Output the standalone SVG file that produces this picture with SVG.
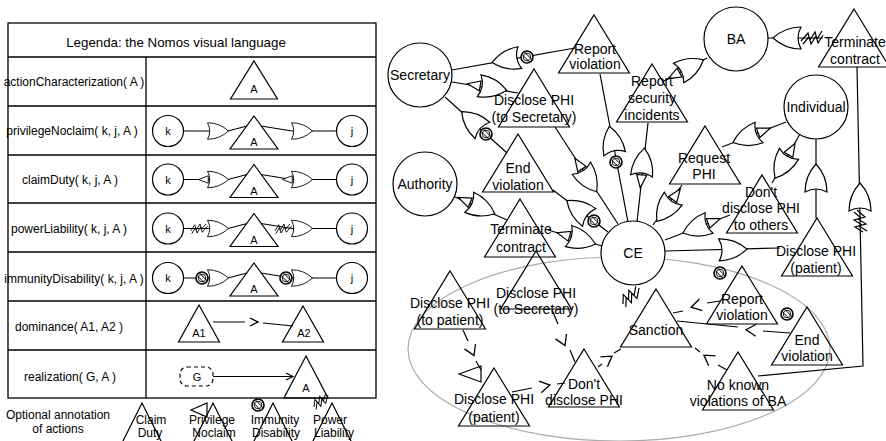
<svg xmlns="http://www.w3.org/2000/svg" xmlns:xlink="http://www.w3.org/1999/xlink" width="886" height="441" viewBox="0 0 886 441">
<style>
.ln{stroke:#000;stroke-width:1.2;fill:none}
.nd{stroke:#000;stroke-width:1.2;fill:#fff}
.tr{stroke:#000;stroke-width:1.2;fill:none}
.tb{stroke:#000;stroke-width:1.3;fill:none}
text{font-family:"Liberation Sans",Arial,Helvetica,sans-serif;fill:#000}
.t{font-size:14px;text-anchor:middle}
.lg{font-size:12px;text-anchor:middle}
.sm{font-size:11px;text-anchor:middle}
</style>
<defs>
<path id="gate" d="M -14,-11 Q 2,-11 14,0 Q 2,11 -14,11 Q -8,0 -14,-11 Z" fill="#fff" stroke="#000" stroke-width="1.2"/>
<path id="cm" d="M -13,-5 L -13,5 L -26,0 Z" fill="#fff" stroke="#000" stroke-width="1.2"/>
<g id="im"><circle r="6" fill="#fff" stroke="#000" stroke-width="1.6"/><circle r="3.8" fill="none" stroke="#000" stroke-width="0.9"/><path d="M -5,-2.6 L 2.6,5 M -2.6,-5 L 5,2.6" stroke="#000" stroke-width="1" fill="none"/></g>
<path id="zz" d="M -11,3 L -6,-5 L -4,2 L 1,-6 L 3,1 L 9,-6 M -10,7 L -5,-1 L -3,6 L 2,-2 L 4,5 L 11,-3" fill="none" stroke="#000" stroke-width="1.2"/>
<path id="chev" d="M -5,-6 L 5,0 L -5,6" fill="none" stroke="#000" stroke-width="1.3"/>
<path id="tri" d="M 0,0 L 35.5,58 L -35.5,58 Z" fill="none" stroke="#000" stroke-width="1.2"/>
</defs>

<!-- ================= LEGEND ================= -->
<g id="legend">
<rect class="tb" x="8" y="23" width="368" height="375"/>
<path class="tb" d="M8,57 H376 M8,106 H376 M8,155 H376 M8,203 H376 M8,252 H376 M8,301 H376 M8,350 H376 M146,57 V398"/>
<text x="176" y="47" style="font-size:13.3px" text-anchor="middle">Legenda: the Nomos visual language</text>
<text class="lg" x="74" y="86">actionCharacterization( A )</text>
<text class="lg" x="72" y="135">privilegeNoclaim( k, j, A )</text>
<text class="lg" x="70" y="184">claimDuty( k, j, A )</text>
<text class="lg" x="69" y="233">powerLiability( k, j, A )</text>
<text class="lg" x="74" y="283">immunityDisability( k, j, A )</text>
<text class="lg" x="69" y="331">dominance( A1, A2 )</text>
<text class="lg" x="70" y="381">realization( G, A )</text>

<polygon class="tr" points="254,61 277.5,99 230.5,99"/>
<text class="sm" x="254" y="93">A</text>

<g id="leg-priv">
<path class="ln" d="M183.5,131 H228 L247,126 M261,126 L292,131 H336.5"/>
<g transform="translate(218,131) scale(0.75)"><use xlink:href="#gate"/></g>
<g transform="translate(302,131) scale(0.75)"><use xlink:href="#gate"/></g>
<circle class="nd" cx="168" cy="131" r="15.5"/><text class="sm" x="168" y="135">k</text>
<circle class="nd" cx="352" cy="131" r="15.5"/><text class="sm" x="352" y="135">j</text>
<polygon class="tr" points="254,116 278,149 230,149"/><text class="sm" x="254" y="146">A</text>
</g>
<g id="leg-claim">
<path class="ln" d="M183.5,179.5 H228 L247,174.5 M261,174.5 L292,179.5 H336.5"/>
<g transform="translate(218,179.5) scale(0.75)"><use xlink:href="#gate"/><use xlink:href="#cm"/></g>
<g transform="translate(302,179.5) scale(0.75)"><use xlink:href="#gate"/><use xlink:href="#cm"/></g>
<circle class="nd" cx="168" cy="179.5" r="15.5"/><text class="sm" x="168" y="183.5">k</text>
<circle class="nd" cx="352" cy="179.5" r="15.5"/><text class="sm" x="352" y="183.5">j</text>
<polygon class="tr" points="254,164.5 278,197.5 230,197.5"/><text class="sm" x="254" y="194.5">A</text>
</g>
<g id="leg-power">
<path class="ln" d="M183.5,228.5 H228 L247,223.5 M261,223.5 L292,228.5 H336.5"/>
<g transform="translate(218,228.5) scale(0.75)"><use xlink:href="#gate"/><use xlink:href="#zz" x="-25"/></g>
<g transform="translate(302,228.5) scale(0.75)"><use xlink:href="#gate"/><use xlink:href="#zz" x="-25"/></g>
<circle class="nd" cx="168" cy="228.5" r="15.5"/><text class="sm" x="168" y="232.5">k</text>
<circle class="nd" cx="352" cy="228.5" r="15.5"/><text class="sm" x="352" y="232.5">j</text>
<polygon class="tr" points="254,213.5 278,246.5 230,246.5"/><text class="sm" x="254" y="243.5">A</text>
</g>
<g id="leg-imm">
<path class="ln" d="M183.5,278 H228 L247,273 M261,273 L292,278 H336.5"/>
<g transform="translate(218,278) scale(0.75)"><use xlink:href="#gate"/></g>
<g transform="translate(302,278) scale(0.75)"><use xlink:href="#gate"/></g>
<use xlink:href="#im" x="202" y="278"/>
<use xlink:href="#im" x="286" y="278"/>
<circle class="nd" cx="168" cy="278" r="15.5"/><text class="sm" x="168" y="282">k</text>
<circle class="nd" cx="352" cy="278" r="15.5"/><text class="sm" x="352" y="282">j</text>
<polygon class="tr" points="254,263 278,296 230,296"/><text class="sm" x="254" y="293">A</text>
</g>
<g id="leg-dom">
<path class="ln" d="M213,322 H245 M263,323 L293,326"/>
<path d="M250,318 L258,322 L250,326" fill="none" stroke="#000" stroke-width="1.3"/>
<polygon class="tr" points="199,305 219.5,342 178.5,342"/><text class="sm" x="199" y="337">A1</text>
<polygon class="tr" points="303,306 323.5,342 282.5,342"/><text class="sm" x="304" y="337">A2</text>
</g>
<g id="leg-real">
<rect x="180" y="367" width="33" height="19" rx="7" fill="none" stroke="#000" stroke-width="1.2" stroke-dasharray="4,3"/>
<text class="sm" x="197" y="381">G</text>
<path class="ln" d="M213,376.5 H293 M286,373 L293,376.5 L286,380"/>
<polygon class="tr" points="306,356 328,398 284,398"/><text class="sm" x="306" y="392">A</text>
</g>
<g id="leg-annot">
<text class="lg" x="58" y="419">Optional annotation</text>
<text class="lg" x="58" y="433">of actions</text>
<polygon class="tr" points="142,403 120,447 164,447"/>
<text class="lg" x="151" y="424">Claim</text><text class="lg" x="150" y="437">Duty</text>
<polygon class="tr" points="213,403 191,447 235,447"/>
<polygon points="191,410 207,403 207,417" fill="none" stroke="#000" stroke-width="1.2"/>
<text class="lg" x="212" y="424">Privilege</text><text class="lg" x="214" y="437">Noclaim</text>
<polygon class="tr" points="273,403 251,447 295,447"/>
<use xlink:href="#im" x="258" y="405"/>
<text class="lg" x="275" y="424">Immunity</text><text class="lg" x="276" y="437">Disability</text>
<polygon class="tr" points="332,403 310,447 354,447"/>
<use xlink:href="#zz" transform="translate(321,401) rotate(-25) scale(0.8)"/>
<text class="lg" x="330" y="424">Power</text><text class="lg" x="334" y="437">Liability</text>
</g>
</g>

<!-- ================= GRAPH ================= -->
<ellipse cx="619" cy="349" rx="211" ry="92" fill="none" stroke="#aaa" stroke-width="1.2"/>

<g id="connectors">
<path class="ln" d="M452,70 L575,48"/>
<path class="ln" d="M452,82 L518,93"/>
<path class="ln" d="M445,97 L507,153"/>
<path class="ln" d="M455,197 L507,220"/>
<path class="ln" d="M707,58 L662,82"/>
<path class="ln" d="M768,38 L823,38"/>
<path class="ln" d="M786,122 L722,147"/>
<path class="ln" d="M800,134 L772,183"/>
<path class="ln" d="M816,139 L816,218"/>
<path class="ln" d="M758,376 L863,366 L857,67"/>
<path class="ln" d="M600,74 L628,222"/>
<path class="ln" d="M648,123 L637,222"/>
<path class="ln" d="M555,127 L618,224"/>
<path class="ln" d="M553,190 L608,232"/>
<path class="ln" d="M548,230 L602,246"/>
<path class="ln" d="M682,185 L653,225"/>
<path class="ln" d="M730,215 L665,240"/>
<path class="ln" d="M665,251 L780,248"/>

<g transform="translate(506,60) rotate(170)"><use xlink:href="#gate"/></g>
<g transform="translate(493,88) rotate(9.5)"><use xlink:href="#gate"/><use xlink:href="#cm"/></g>
<g transform="translate(472,121) rotate(-138)"><use xlink:href="#gate"/></g>
<g transform="translate(482,208) rotate(24)"><use xlink:href="#gate"/><use xlink:href="#cm"/></g>
<g transform="translate(691,66.5) rotate(-28)"><use xlink:href="#gate"/><use xlink:href="#cm"/></g>
<g transform="translate(787,38) rotate(180)"><use xlink:href="#gate"/><use xlink:href="#zz" x="-25"/></g>
<g transform="translate(746,137.5) rotate(159)"><use xlink:href="#gate"/><use xlink:href="#cm"/></g>
<g transform="translate(782,166) rotate(120)"><use xlink:href="#gate"/><use xlink:href="#cm"/></g>
<g transform="translate(816,178) rotate(-90)"><use xlink:href="#gate"/></g>
<g transform="translate(860,197) rotate(-90)"><use xlink:href="#gate"/><use xlink:href="#zz" x="-24"/></g>
<g transform="translate(612,140) rotate(-101)"><use xlink:href="#gate"/></g>
<g transform="translate(643,162) rotate(-84)"><use xlink:href="#gate"/><use xlink:href="#cm"/></g>
<g transform="translate(589,180) rotate(57)"><use xlink:href="#gate"/><use xlink:href="#cm"/></g>
<g transform="translate(578,209) rotate(-143)"><use xlink:href="#gate"/></g>
<g transform="translate(582,240) rotate(16.5)"><use xlink:href="#gate"/><use xlink:href="#cm"/></g>
<g transform="translate(665,210) rotate(126)"><use xlink:href="#gate"/><use xlink:href="#cm"/></g>
<g transform="translate(696,228) rotate(159)"><use xlink:href="#gate"/><use xlink:href="#cm"/></g>
<g transform="translate(733,249.5) rotate(-1.5)"><use xlink:href="#gate"/></g>

<use xlink:href="#im" x="527" y="57"/>
<use xlink:href="#im" x="486" y="134"/>
<use xlink:href="#im" x="616" y="162"/>
<use xlink:href="#im" x="594" y="221"/>

<path class="ln" d="M463,330 L468,341 M476,361 L481,370"/>
<use xlink:href="#chev" transform="translate(472,351) rotate(66)"/>
<path class="ln" d="M552,310 L558,324 M570,350 L575,362"/>
<use xlink:href="#chev" transform="translate(563,341) rotate(66)"/>
<path class="ln" d="M512,392 L532,388 M557,384 L565,383"/>
<use xlink:href="#chev" transform="translate(545,386) rotate(-11)"/>
<path class="ln" d="M598,367 L602,364 M614,353 L621,349"/>
<use xlink:href="#chev" transform="translate(608,359) rotate(-35)"/>
<path class="ln" d="M720,301 L707,303 M683,311 L673,313"/>
<use xlink:href="#chev" transform="translate(696,306) rotate(166)"/>
<path class="ln" d="M790,333 L763,331 M738,327 L677,321"/>
<use xlink:href="#chev" transform="translate(751,330) rotate(183)"/>
<path class="ln" d="M727,370 L718,365 M700,352 L695,348"/>
<use xlink:href="#chev" transform="translate(708,358) rotate(215)"/>
</g>

<use xlink:href="#im" x="720" y="273"/>
<use xlink:href="#im" x="787" y="314"/>
<use xlink:href="#zz" transform="translate(631,296) rotate(-30)"/>
<polygon points="459,374 481,366 481,382" fill="none" stroke="#000" stroke-width="1.2"/>

<g id="n-secretary"><circle class="nd" cx="420" cy="75" r="32"/><text class="t" x="420" y="80">Secretary</text></g>
<g id="n-ba"><circle class="nd" cx="736" cy="39" r="32"/><text class="t" x="736" y="44">BA</text></g>
<g id="n-individual"><circle class="nd" cx="816" cy="107" r="32"/><text class="t" x="816" y="112">Individual</text></g>
<g id="n-authority"><circle class="nd" cx="425" cy="184" r="32"/><text class="t" x="425" y="189">Authority</text></g>
<g id="n-ce"><circle class="nd" cx="633" cy="253" r="32"/><text class="t" x="633" y="258">CE</text></g>

<g id="a-report-violation-1"><use xlink:href="#tri" x="594" y="15"/><text class="t" x="595" y="54">Report</text><text class="t" x="595" y="69">violation</text></g>
<g id="a-disclose-sec-1"><use xlink:href="#tri" x="534" y="69"/><text class="t" x="534" y="105">Disclose PHI</text><text class="t" x="534" y="122">(to Secretary)</text></g>
<g id="a-report-security"><use xlink:href="#tri" x="652" y="64"/><text class="t" x="652" y="86">Report</text><text class="t" x="652" y="103">security</text><text class="t" x="652" y="120">incidents</text></g>
<g id="a-terminate-1"><use xlink:href="#tri" x="854" y="9"/><text class="t" x="855" y="47">Terminate</text><text class="t" x="855" y="64">contract</text></g>
<g id="a-request-phi"><use xlink:href="#tri" x="705" y="126"/><text class="t" x="704" y="163">Request</text><text class="t" x="704" y="179">PHI</text></g>
<g id="a-dont-disclose-others"><use xlink:href="#tri" x="762" y="175"/><text class="t" x="761" y="197">Don't</text><text class="t" x="761" y="213">disclose PHI</text><text class="t" x="761" y="230">to others</text></g>
<g id="a-disclose-patient-1"><use xlink:href="#tri" x="817" y="218"/><text class="t" x="816" y="256">Disclose PHI</text><text class="t" x="816" y="273">(patient)</text></g>
<g id="a-end-violation-1"><use xlink:href="#tri" x="518" y="134"/><text class="t" x="518" y="173">End</text><text class="t" x="518" y="190">violation</text></g>
<g id="a-terminate-2"><use xlink:href="#tri" x="520" y="199"/><text class="t" x="521" y="234">Terminate</text><text class="t" x="521" y="252">contract</text></g>
<g id="a-disclose-to-patient"><use xlink:href="#tri" x="450" y="271"/><text class="t" x="450" y="308">Disclose PHI</text><text class="t" x="450" y="325">(to patient)</text></g>
<g id="a-disclose-sec-2"><use xlink:href="#tri" x="536" y="251"/><text class="t" x="536" y="298">Disclose PHI</text><text class="t" x="536" y="314">(to Secretary)</text></g>
<g id="a-disclose-patient-2"><use xlink:href="#tri" x="494" y="368"/><text class="t" x="494" y="404">Disclose PHI</text><text class="t" x="494" y="422">(patient)</text></g>
<g id="a-dont-disclose"><use xlink:href="#tri" x="584" y="349"/><text class="t" x="584" y="389">Don't</text><text class="t" x="584" y="405">disclose PHI</text></g>
<g id="a-sanction"><use xlink:href="#tri" x="656" y="289"/><text class="t" x="656" y="335">Sanction</text></g>
<g id="a-report-violation-2"><use xlink:href="#tri" x="742" y="266"/><text class="t" x="742" y="304">Report</text><text class="t" x="742" y="320">violation</text></g>
<g id="a-end-violation-2"><use xlink:href="#tri" x="807" y="307"/><text class="t" x="807" y="345">End</text><text class="t" x="807" y="361">violation</text></g>
<g id="a-no-known"><use xlink:href="#tri" x="738" y="352"/><text class="t" x="738" y="390">No known</text><text class="t" x="738" y="406">violations of BA</text></g>
</svg>
